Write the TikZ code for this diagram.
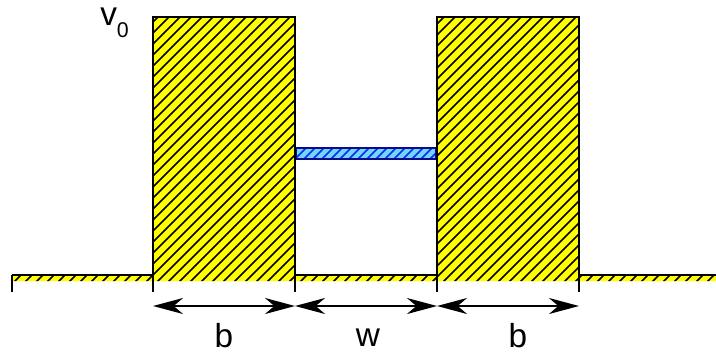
\documentclass[tikz,border=0pt]{standalone}
\usepackage{fontspec}
\setmainfont{Liberation Sans}
\usepackage{tikz}
\usetikzlibrary{arrows.meta, positioning}
\definecolor{wallyellow}{RGB}{255,255,0}
\definecolor{wellcyan}{RGB}{110,215,255}
\definecolor{wellblue}{RGB}{20,40,230}
\definecolor{wellnavy}{RGB}{10,10,140}
\tikzstyle{barrier} = [fill=wallyellow]
\tikzstyle{hatch} = [line width=1.1pt]
\tikzstyle{level} = [fill=wellcyan]
\tikzstyle{levelhatch} = [line width=1.1pt, draw=wellblue]
\tikzstyle{levelrim} = [draw=wellnavy, line width=2pt]
\tikzstyle{profile} = [line width=2.1pt, line join=miter]
\tikzstyle{tick} = [line width=1.5pt]
\tikzstyle{dim} = [<->, >={Stealth[length=22.5pt, width=12pt, inset=7pt]}, line width=1.5pt]
\tikzstyle{lbl} = [font=\fontsize{25}{27}\selectfont, inner sep=0pt]

\begin{document}
\begin{tikzpicture}[x=0.75pt, y=-0.75pt]
    \useasboundingbox (0,0) rectangle (716,354);

    % corner points of the profile
    \coordinate (l0) at (12,275);
    \coordinate (l1) at (153,275);
    \coordinate (l2) at (295,275);
    \coordinate (l3) at (437,275);
    \coordinate (l4) at (579,275);
    \coordinate (l5) at (716,275);

    % yellow barriers with hatching
    \begin{scope}
        \clip (12,275) rectangle (716,281)
              (153,17) rectangle (295,275)
              (437,17) rectangle (579,275);
        \fill[barrier] (0,0) rectangle (716,300);
        \foreach \i in {-290,-279,...,716}
            \draw[hatch] (\i,300) -- ++(300,-300);
    \end{scope}

    % cyan level in the well
    \begin{scope}
        \clip (296,148) rectangle (436,159);
        \fill[level] (296,148) rectangle (436,159);
        \foreach \i in {280,289,...,440}
            \draw[levelhatch] (\i,165) -- ++(20,-20);
    \end{scope}
    \draw[levelrim] (296,148) rectangle (436,159);

    % potential outline
    \draw[profile] (l0) -- (l1) -- (153,17) -- (295,17) -- (l2) -- (l3)
        -- (437,17) -- (579,17) -- (l4) -- (l5);

    % ticks
    \foreach \p in {l0,l1,l2,l3,l4}
        \draw[tick] (\p) -- ++(0,17);

    % dimension arrows
    \coordinate (a1) at (153,306);
    \coordinate (a2) at (295,306);
    \coordinate (a3) at (437,306);
    \coordinate (a4) at (579,306);
    \draw[dim] (a1) -- (a2);
    \draw[dim] (a2) -- (a3);
    \draw[dim] (a3) -- (a4);

    \node (bleft)  [lbl] at (224,336) {b};
    \node (wmid)   [lbl] at (368,338) {w};
    \node (bright) [lbl] at (518,336) {b};
    \node (vzero)  [lbl, anchor=base west] at (100,25)
        {v\raisebox{-9.5pt}{\fontsize{16}{17}\selectfont 0}};
\end{tikzpicture}
\end{document}
